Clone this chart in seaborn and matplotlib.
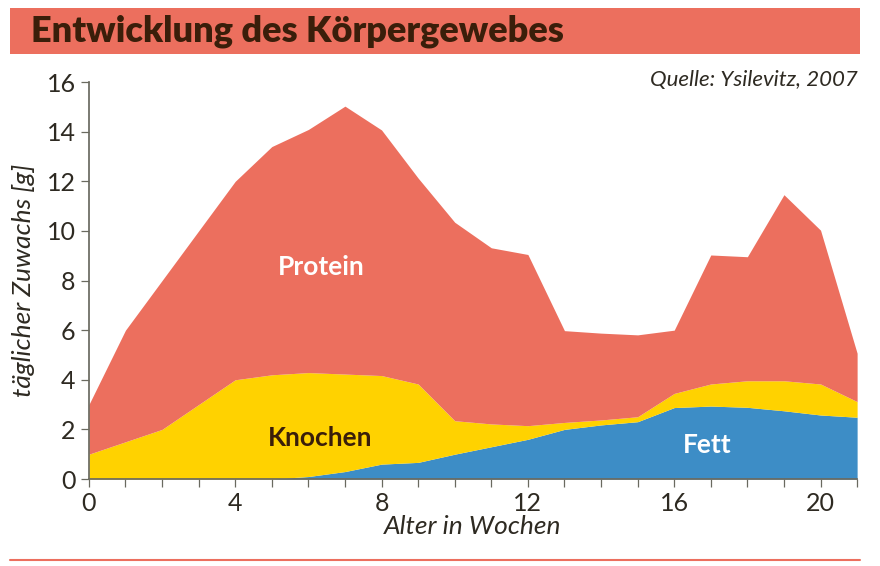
import numpy as np
import pandas as pd
import matplotlib.pyplot as plt
import seaborn as sns

# Alter in Wochen
wochen = list(range(22))
# täglicher Zuwachs je Gewebe [g]
fett = [0, 0, 0, 0, 0, 0, 0.1, 0.3, 0.6, 0.67, 1.0, 1.3, 1.6, 2.0, 2.18, 2.31,
        2.88, 2.94, 2.89, 2.75, 2.58, 2.49]
knochen = [1.0, 1.5, 2.0, 3.0, 4.0, 4.2, 4.19, 3.93, 3.57, 3.16, 1.35, 0.92, 0.55,
           0.28, 0.2, 0.2, 0.57, 0.89, 1.07, 1.21, 1.25, 0.63]
protein = [2.0, 4.5, 6.0, 7.0, 8.0, 9.2, 9.8, 10.8, 9.9, 8.3, 8.0, 7.1, 6.9, 3.7,
           3.5, 3.3, 2.55, 5.2, 5.0, 7.5, 6.2, 1.95]

df = pd.DataFrame({"Woche": wochen, "Fett": fett, "Knochen": knochen, "Protein": protein})

ROT = "#EC6F5E"
GELB = "#FFD200"
BLAU = "#3D8DC6"
BRAUN = "#3A1E0A"
DUNKEL = "#2E2A22"
GRAU = "#6A6A60"

sns.set_theme(style="ticks")
plt.rcParams["font.family"] = ["Lato", "DejaVu Sans"]

fig = plt.figure(figsize=(8.8, 5.66), dpi=100)
ax = fig.add_axes([0.101, 0.1537, 0.873, 0.7013])

ax.stackplot(df["Woche"], df["Fett"], df["Knochen"], df["Protein"],
             colors=[BLAU, GELB, ROT], linewidth=0)

ax.set_xlim(0, 21)
ax.set_ylim(0, 16)
ax.set_xticks([0, 4, 8, 12, 16, 20])
ax.set_xticks(range(22), minor=True)
ax.set_yticks(range(0, 17, 2))
ax.tick_params(axis="both", which="both", colors=GRAU, labelcolor=DUNKEL,
               labelsize=18, length=6, width=0.9)
sns.despine(ax=ax, top=True, right=True)
ax.spines["left"].set_color(GRAU)
ax.spines["bottom"].set_color(GRAU)

ax.set_xlabel("Alter in Wochen", fontsize=19, style="italic", color=DUNKEL, labelpad=0)
ax.set_ylabel("täglicher Zuwachs [g]", fontsize=19, style="italic", color=DUNKEL,
              labelpad=8)

ax.text(6.35, 8.55, "Protein", color="white", fontsize=19, fontweight="bold",
        ha="center", va="center")
ax.text(6.33, 1.65, "Knochen", color=BRAUN, fontsize=19, fontweight="bold",
        ha="center", va="center")
ax.text(16.9, 1.37, "Fett", color="white", fontsize=19, fontweight="bold",
        ha="center", va="center")

fig.text(0.975, 0.858, "Quelle: Ysilevitz, 2007", ha="right", va="center",
         fontsize=16, style="italic", color=DUNKEL)

# Titelbalken und Linie unten
fig.patches.append(plt.Rectangle((0.011, 0.905), 0.966, 0.081, transform=fig.transFigure,
                                 facecolor=ROT, edgecolor="none"))
fig.text(0.035, 0.944, "Entwicklung des Körpergewebes", ha="left", va="center",
         fontsize=26, fontweight="heavy", color=BRAUN)
fig.lines.append(plt.Line2D([0.011, 0.977], [0.011, 0.011], transform=fig.transFigure,
                            color=ROT, linewidth=1.5))

fig.savefig("out.png", dpi=100)
